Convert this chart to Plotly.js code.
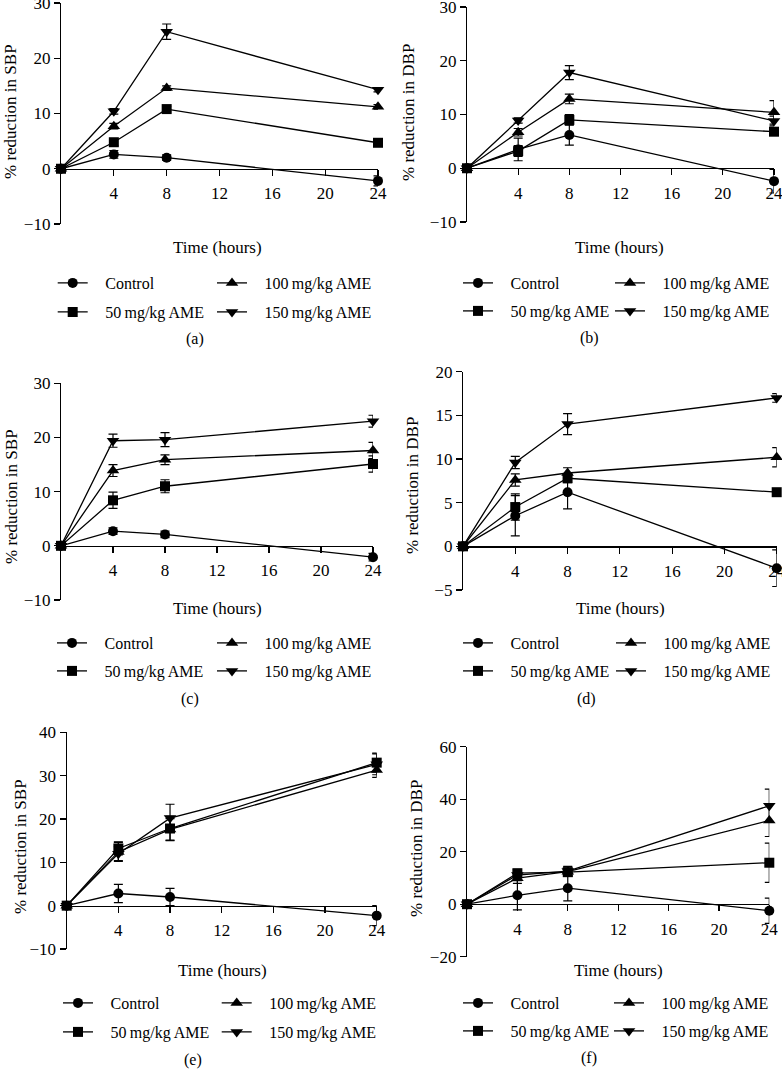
<!DOCTYPE html>
<html>
<head>
<meta charset="utf-8">
<script src="https://cdn.plot.ly/plotly-3.0.1.min.js"></script>
<style>
  html, body { margin: 0; padding: 0; background: #fff; }
  #chart { width: 782px; height: 1071px; }
</style>
</head>
<body>
<div id="chart"></div>
<script>
// time points (hours) and groups
const hours = [0, 4, 8, 24];
const groups = ["Control", "50\u2009mg/kg AME", "100\u2009mg/kg AME", "150\u2009mg/kg AME"];
const xTicks = [4, 8, 12, 16, 20, 24];

// (a) SBP
const meanA = [[0, 2.6, 2.0, -2.2], [0, 4.8, 10.8, 4.7], [0, 7.7, 14.6, 11.2], [0, 10.4, 24.8, 14.3]];
const errA = [[0, 0.7, 0.5, 0.9], [0, 0.6, 0.5, 0.4], [0, 0.5, 0.4, 0.4], [0, 0.5, 1.4, 0.4]];
// (b) DBP
const meanB = [[0, 3.5, 6.2, -2.4], [0, 3.2, 9.0, 6.8], [0, 6.7, 12.9, 10.4], [0, 8.9, 17.8, 8.8]];
const errB = [[0, 2.1, 1.9, 2.2], [0, 1.0, 1.0, 0.7], [0, 0.7, 0.9, 2.2], [0, 0.5, 1.3, 0.9]];
// (c) SBP
const meanC = [[0, 2.7, 2.1, -2.1], [0, 8.4, 11.0, 15.1], [0, 13.9, 15.9, 17.6], [0, 19.4, 19.6, 23.0]];
const errC = [[0, 0.6, 0.6, 0.7], [0, 1.5, 1.2, 1.5], [0, 1.1, 0.9, 1.5], [0, 1.2, 1.3, 1.1]];
// (d) DBP
const meanD = [[0, 3.5, 6.2, -2.5], [0, 4.5, 7.8, 6.2], [0, 7.6, 8.4, 10.2], [0, 9.6, 14.0, 17.0]];
const errD = [[0, 2.3, 1.9, 2.1], [0, 1.5, 0.5, 0.3], [0, 0.7, 0.6, 1.1], [0, 0.7, 1.2, 0.5]];
// (e) SBP
const meanE = [[0, 2.8, 2.0, -2.3], [0, 13.2, 17.8, 33.0], [0, 12.4, 17.6, 31.3], [0, 12.0, 20.2, 32.6]];
const errE = [[0, 2.1, 2.0, 2.3], [0, 1.5, 2.8, 2.2], [0, 2.2, 2.5, 1.7], [0, 1.6, 3.2, 2.4]];
// (f) DBP
const meanF = [[0, 3.4, 6.1, -2.5], [0, 11.8, 12.2, 15.8], [0, 9.9, 12.4, 31.9], [0, 11.1, 12.6, 37.5]];
const errF = [[0, 5.6, 4.8, 4.8], [0, 1.5, 1.5, 7.5], [0, 2.0, 1.8, 6.1], [0, 1.5, 1.8, 6.3]];

const yTicksA = [-10, 0, 10, 20, 30];
const yTicksD = [-5, 0, 5, 10, 15, 20];
const yTicksE = [-10, 0, 10, 20, 30, 40];
const yTicksF = [-20, 0, 20, 40, 60];

const W = 782, H = 1071;
const px = v => v / W;
const py = v => 1 - v / H;
const FONT = "Liberation Serif, Times New Roman, serif";

const symbols = ["circle", "square", "triangle-up", "triangle-down"];
const sizes = [10, 10, 11, 11];
const drawOrder = [0, 2, 3, 1];

// panel boxes in pixels
const panels = [
  {mean: meanA, err: errA, ticks: yTicksA, range: [-10, 30], yt: "% reduction in SBP", tag: "(a)",
   x0: 61, x1: 378, top: 3, bot: 224, ytx: 11, yty: 112, tx: 217, ty: 247, lx: 195, ly: 339,
   c1: 72.7, c2: 232, r1: 283, r2: 312},
  {mean: meanB, err: errB, ticks: yTicksA, range: [-10, 30], yt: "% reduction in DBP", tag: "(b)",
   x0: 467, x1: 774, top: 7, bot: 222, ytx: 409, yty: 112, tx: 619, ty: 247, lx: 589, ly: 338,
   c1: 478, c2: 630, r1: 283, r2: 311},
  {mean: meanC, err: errC, ticks: yTicksA, range: [-10, 30], yt: "% reduction in SBP", tag: "(c)",
   x0: 61, x1: 373, top: 383.3, bot: 600, ytx: 11, yty: 497, tx: 217, ty: 608, lx: 190, ly: 699,
   c1: 72, c2: 232, r1: 643, r2: 671},
  {mean: meanD, err: errD, ticks: yTicksD, range: [-5, 20], yt: "% reduction in DBP", tag: "(d)",
   x0: 463, x1: 776.7, top: 371.7, bot: 590, ytx: 413, yty: 486, tx: 620, ty: 608, lx: 586, ly: 699,
   c1: 478, c2: 631, r1: 643, r2: 671},
  {mean: meanE, err: errE, ticks: yTicksE, range: [-10, 40], yt: "% reduction in SBP", tag: "(e)",
   x0: 66.7, x1: 376.7, top: 732.3, bot: 949, ytx: 20, yty: 847, tx: 222, ty: 970, lx: 193, ly: 1060,
   c1: 78, c2: 236.7, r1: 1003, r2: 1032},
  {mean: meanF, err: errF, ticks: yTicksF, range: [-20, 60], yt: "% reduction in DBP", tag: "(f)",
   x0: 467, x1: 769.3, top: 746.7, bot: 956.7, ytx: 416, yty: 849, tx: 618, ty: 970, lx: 589, ly: 1058,
   c1: 478, c2: 629, r1: 1003, r2: 1031}
];

const traces = [];
const layout = {
  width: W, height: H,
  margin: {l: 0, r: 0, t: 0, b: 0},
  showlegend: true,
  paper_bgcolor: "white", plot_bgcolor: "white",
  font: {family: FONT, size: 15, color: "black"},
  annotations: []
};

const legendName = n => (n === 1 ? "legend" : "legend" + n);

panels.forEach((p, i) => {
  const n = i + 1;
  const xId = n === 1 ? "x" : "x" + n;
  const yId = n === 1 ? "y" : "y" + n;
  const zeroPx = p.top + (p.bot - p.top) * p.range[1] / (p.range[1] - p.range[0]);

  layout[n === 1 ? "xaxis" : "xaxis" + n] = {
    domain: [px(p.x0), px(p.x1)], range: [0, 24],
    anchor: "free", position: py(zeroPx),
    showline: true, linecolor: "black", linewidth: 1.2,
    ticks: "outside", ticklen: 6, tickwidth: 1.2, tickcolor: "black",
    tickvals: xTicks, ticklabelstandoff: 3, ticklabeloverflow: "allow",
    showgrid: false, zeroline: false, fixedrange: true,
    tickfont: {family: FONT, size: 17, color: "black"}
  };
  layout[n === 1 ? "yaxis" : "yaxis" + n] = {
    domain: [py(p.bot), py(p.top)], range: p.range, anchor: xId,
    showline: true, linecolor: "black", linewidth: 1.2,
    ticks: "outside", ticklen: 6, tickwidth: 1.2, tickcolor: "black",
    tickvals: p.ticks, ticklabeloverflow: "allow",
    showgrid: false, zeroline: false, fixedrange: true,
    tickfont: {family: FONT, size: 17, color: "black"}
  };

  drawOrder.forEach(g => {
    // one legend per entry: Control / 100 in the first row, 50 / 150 in the second
    const lid = legendName(i * 4 + g + 1);
    const cx = (g === 0 || g === 1) ? p.c1 : p.c2;
    const ry = (g === 0 || g === 2) ? p.r1 : p.r2;
    layout[lid] = {
      orientation: "h", x: px(cx - 20), y: py(ry),
      xanchor: "left", yanchor: "middle",
      bgcolor: "rgba(0,0,0,0)", borderwidth: 0,
      font: {family: FONT, size: 16, color: "black"},
      itemclick: false, itemdoubleclick: false
    };
    traces.push({
      x: hours, y: p.mean[g],
      xaxis: xId, yaxis: yId,
      type: "scatter", mode: "lines+markers",
      name: "\u2002\u2009\u200A" + groups[g],
      legend: lid, showlegend: true,
      line: {color: "black", width: 1.3},
      marker: {symbol: symbols[g], size: sizes[g], color: "black"},
      error_y: {type: "data", array: p.err[g], visible: true, color: "black", thickness: 1.2, width: 4.5},
      cliponaxis: false,
      hoverinfo: "skip"
    });
  });

  layout.annotations.push(
    {text: "Time (hours)", xref: "paper", yref: "paper", x: px(p.tx), y: py(p.ty),
     xanchor: "center", yanchor: "middle", showarrow: false, font: {family: FONT, size: 17, color: "black"}},
    {text: p.tag, xref: "paper", yref: "paper", x: px(p.lx), y: py(p.ly),
     xanchor: "center", yanchor: "middle", showarrow: false, font: {family: FONT, size: 16, color: "black"}},
    {text: p.yt, xref: "paper", yref: "paper", x: px(p.ytx), y: py(p.yty), textangle: -90,
     xanchor: "center", yanchor: "middle", showarrow: false, font: {family: FONT, size: 17, color: "black"}}
  );
});

Plotly.newPlot("chart", traces, layout, {displayModeBar: false, staticPlot: true});
</script>
</body>
</html>
